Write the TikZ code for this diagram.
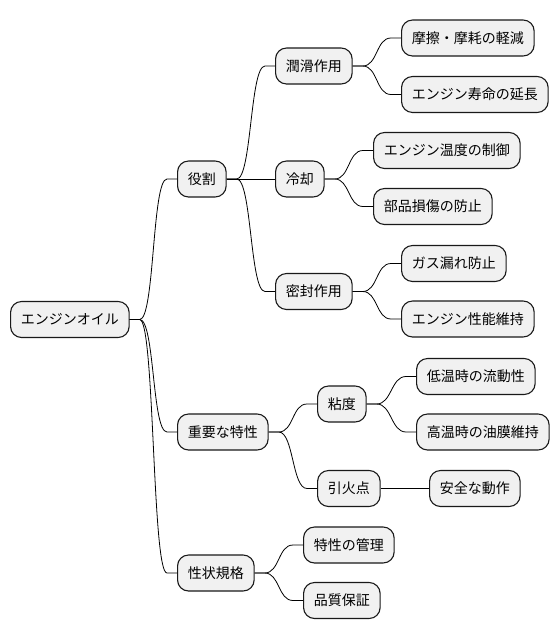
\documentclass[tikz,border=0pt]{standalone}
\usepackage{fontspec}
\setmainfont{Noto Sans CJK JP}
\usetikzlibrary{calc}
\tikzset{
  box/.style={draw=black!90, fill=black!5.5, line width=1.1pt, rounded corners=11pt,
    minimum height=36pt, inner xsep=10.3pt, inner ysep=0pt, anchor=west,
    font=\fontsize{14}{16}\selectfont},
  mm/.style={line width=0.8pt, to path={-- ++(10pt,0) .. controls ($(\tikztostart)+(25pt,0)$) and ($(\tikztotarget)+(-25pt,0)$) .. ($(\tikztotarget)+(-10pt,0)$) -- (\tikztotarget)}},
  st/.style={line width=0.8pt}
}
\begin{document}
\begin{tikzpicture}[x=1pt,y=-1pt]
\useasboundingbox (0,0) rectangle (558,640);
\node[box] (root) at (10,319.5) {エンジンオイル};
\node[box] (r1) at (177,179) {役割};
\node[box] (r2) at (177,432) {重要な特性};
\node[box] (r3) at (177,573) {性状規格};
\node[box] (a) at (275,66) {潤滑作用};
\node[box] (b) at (275,179) {冷却};
\node[box] (c) at (275,291.5) {密封作用};
\node[box] (a1) at (401,38) {摩擦・摩耗の軽減};
\node[box] (a2) at (401,94.5) {エンジン寿命の延長};
\node[box] (b1) at (373,150.5) {エンジン温度の制御};
\node[box] (b2) at (373,206.5) {部品損傷の防止};
\node[box] (c1) at (401,263.5) {ガス漏れ防止};
\node[box] (c2) at (401,319) {エンジン性能維持};
\node[box] (d) at (317,404) {粘度};
\node[box] (e) at (317,488.5) {引火点};
\node[box] (d1) at (416,376.5) {低温時の流動性};
\node[box] (d2) at (416,432) {高温時の油膜維持};
\node[box] (e1) at (429,488.5) {安全な動作};
\node[box] (f1) at (303,545) {特性の管理};
\node[box] (f2) at (303,600.5) {品質保証};
\draw[mm] (root.east) to (r1.west);
\draw[mm] (root.east) to (r2.west);
\draw[mm] (root.east) to (r3.west);
\draw[mm] (r1.east) to (a.west);
\draw[st] (r1.east) -- (b.west);
\draw[mm] (r1.east) to (c.west);
\draw[mm] (a.east) to (a1.west);
\draw[mm] (a.east) to (a2.west);
\draw[mm] (b.east) to (b1.west);
\draw[mm] (b.east) to (b2.west);
\draw[mm] (c.east) to (c1.west);
\draw[mm] (c.east) to (c2.west);
\draw[mm] (r2.east) to (d.west);
\draw[mm] (r2.east) to (e.west);
\draw[mm] (d.east) to (d1.west);
\draw[mm] (d.east) to (d2.west);
\draw[st] (e.east) -- (e1.west);
\draw[mm] (r3.east) to (f1.west);
\draw[mm] (r3.east) to (f2.west);
\end{tikzpicture}
\end{document}
